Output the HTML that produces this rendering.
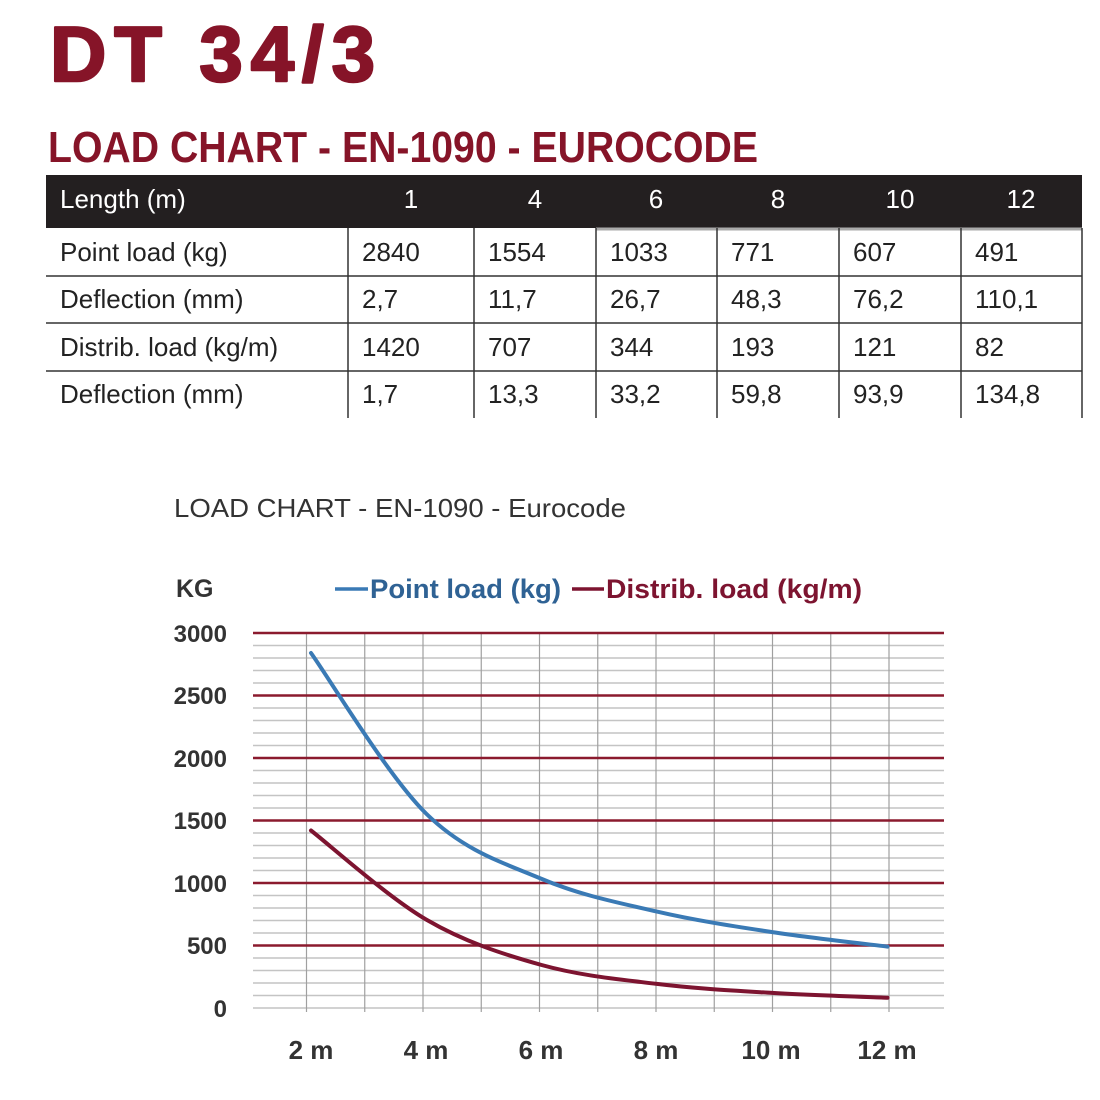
<!DOCTYPE html>
<html><head><meta charset="utf-8"><style>
html,body{margin:0;padding:0;background:#fff;}
svg{display:block;font-family:"Liberation Sans",sans-serif;}
</style></head><body>
<svg width="1100" height="1100" viewBox="0 0 1100 1100">
<rect width="1100" height="1100" fill="#fff"/>
<text x="50" y="81" font-size="78" font-weight="bold" fill="#861428" stroke="#861428" stroke-width="2.5" stroke-linejoin="round" textLength="325" lengthAdjust="spacing">DT 34/3</text>
<text x="48" y="162" font-size="44" font-weight="bold" fill="#861428" textLength="710" lengthAdjust="spacingAndGlyphs">LOAD CHART - EN-1090 - EUROCODE</text>
<!-- table -->
<rect x="46" y="175" width="1036" height="53" fill="#231f20"/>
<line x1="596" y1="229" x2="1082" y2="229" stroke="#aaa" stroke-width="3"/>
<g stroke="#333" stroke-width="1.5">
<line x1="46" y1="276" x2="1082" y2="276"/><line x1="46" y1="323" x2="1082" y2="323"/><line x1="46" y1="371" x2="1082" y2="371"/>
<line x1="348" y1="228" x2="348" y2="418"/><line x1="474" y1="228" x2="474" y2="418"/><line x1="596" y1="228" x2="596" y2="418"/>
<line x1="717" y1="228" x2="717" y2="418"/><line x1="839" y1="228" x2="839" y2="418"/><line x1="961" y1="228" x2="961" y2="418"/><line x1="1082" y1="228" x2="1082" y2="418"/>
</g>
<g font-size="26" fill="#fff">
<text x="60" y="208">Length (m)</text>
<g text-anchor="middle"><text x="411" y="208">1</text><text x="535" y="208">4</text><text x="656" y="208">6</text><text x="778" y="208">8</text><text x="900" y="208">10</text><text x="1021" y="208">12</text></g>
</g>
<g font-size="26" fill="#222">
<text x="60" y="261">Point load (kg)</text><text x="362" y="261">2840</text><text x="488" y="261">1554</text><text x="610" y="261">1033</text><text x="731" y="261">771</text><text x="853" y="261">607</text><text x="975" y="261">491</text>
<text x="60" y="308">Deflection (mm)</text><text x="362" y="308">2,7</text><text x="488" y="308">11,7</text><text x="610" y="308">26,7</text><text x="731" y="308">48,3</text><text x="853" y="308">76,2</text><text x="975" y="308">110,1</text>
<text x="60" y="356">Distrib. load (kg/m)</text><text x="362" y="356">1420</text><text x="488" y="356">707</text><text x="610" y="356">344</text><text x="731" y="356">193</text><text x="853" y="356">121</text><text x="975" y="356">82</text>
<text x="60" y="403">Deflection (mm)</text><text x="362" y="403">1,7</text><text x="488" y="403">13,3</text><text x="610" y="403">33,2</text><text x="731" y="403">59,8</text><text x="853" y="403">93,9</text><text x="975" y="403">134,8</text>
</g>
<!-- chart -->
<text x="174" y="517" font-size="26" fill="#333" textLength="452" lengthAdjust="spacingAndGlyphs">LOAD CHART - EN-1090 - Eurocode</text>
<text x="176" y="597" font-size="25" font-weight="bold" fill="#333">KG</text>
<line x1="335" y1="589" x2="368" y2="589" stroke="#3a7ab5" stroke-width="3.5"/>
<text x="370" y="598" font-size="27" font-weight="bold" fill="#2f6294" textLength="191" lengthAdjust="spacingAndGlyphs">Point load (kg)</text>
<line x1="572" y1="589" x2="604" y2="589" stroke="#7d1430" stroke-width="3.5"/>
<text x="606" y="598" font-size="27" font-weight="bold" fill="#7d1430" textLength="256" lengthAdjust="spacingAndGlyphs">Distrib. load (kg/m)</text>
<g stroke="#c4c4c4" stroke-width="1.5">
<line x1="253" y1="645.5" x2="944" y2="645.5"/><line x1="253" y1="658" x2="944" y2="658"/><line x1="253" y1="670.5" x2="944" y2="670.5"/><line x1="253" y1="683" x2="944" y2="683"/>
<line x1="253" y1="708" x2="944" y2="708"/><line x1="253" y1="720.5" x2="944" y2="720.5"/><line x1="253" y1="733" x2="944" y2="733"/><line x1="253" y1="745.5" x2="944" y2="745.5"/>
<line x1="253" y1="770.5" x2="944" y2="770.5"/><line x1="253" y1="783" x2="944" y2="783"/><line x1="253" y1="795.5" x2="944" y2="795.5"/><line x1="253" y1="808" x2="944" y2="808"/>
<line x1="253" y1="833" x2="944" y2="833"/><line x1="253" y1="845.5" x2="944" y2="845.5"/><line x1="253" y1="858" x2="944" y2="858"/><line x1="253" y1="870.5" x2="944" y2="870.5"/>
<line x1="253" y1="895.5" x2="944" y2="895.5"/><line x1="253" y1="908" x2="944" y2="908"/><line x1="253" y1="920.5" x2="944" y2="920.5"/><line x1="253" y1="933" x2="944" y2="933"/>
<line x1="253" y1="958" x2="944" y2="958"/><line x1="253" y1="970.5" x2="944" y2="970.5"/><line x1="253" y1="983" x2="944" y2="983"/><line x1="253" y1="995.5" x2="944" y2="995.5"/>
<line x1="253" y1="1008" x2="944" y2="1008"/>
</g>
<g stroke="#a0a0a0" stroke-width="1.2">
<line x1="306.5" y1="633" x2="306.5" y2="1012"/><line x1="364.75" y1="633" x2="364.75" y2="1012"/><line x1="423" y1="633" x2="423" y2="1012"/><line x1="481.25" y1="633" x2="481.25" y2="1012"/><line x1="539.5" y1="633" x2="539.5" y2="1012"/><line x1="597.75" y1="633" x2="597.75" y2="1012"/><line x1="656" y1="633" x2="656" y2="1012"/><line x1="714.25" y1="633" x2="714.25" y2="1012"/><line x1="772.5" y1="633" x2="772.5" y2="1012"/><line x1="830.75" y1="633" x2="830.75" y2="1012"/><line x1="889" y1="633" x2="889" y2="1012"/>
</g>
<g stroke="#8b1a2e" stroke-width="2.5">
<line x1="253" y1="633" x2="944" y2="633"/><line x1="253" y1="695.5" x2="944" y2="695.5"/><line x1="253" y1="758" x2="944" y2="758"/><line x1="253" y1="820.5" x2="944" y2="820.5"/><line x1="253" y1="883" x2="944" y2="883"/><line x1="253" y1="945.5" x2="944" y2="945.5"/>
</g>
<g font-size="24" font-weight="bold" fill="#333" text-anchor="end">
<text x="227" y="642">3000</text><text x="227" y="704">2500</text><text x="227" y="767">2000</text><text x="227" y="829">1500</text><text x="227" y="892">1000</text><text x="227" y="954">500</text><text x="227" y="1017">0</text>
</g>
<g font-size="26" font-weight="bold" fill="#333" text-anchor="middle">
<text x="311" y="1059">2 m</text><text x="426" y="1059">4 m</text><text x="541" y="1059">6 m</text><text x="656" y="1059">8 m</text><text x="771" y="1059">10 m</text><text x="887" y="1059">12 m</text>
</g>
<path d="M311,653 C330.2,679.8 387.9,776.1 426.3,813.75 C464.7,851.4 503.2,862.6 541.6,878.9 C580,895.2 618.5,902.7 656.9,911.6 C695.3,920.5 733.8,926.3 772.2,932.1 C810.6,937.9 868.3,944.2 887.5,946.6" fill="none" stroke="#3a7ab5" stroke-width="4" stroke-linecap="round"/>
<path d="M311,830.5 C330.2,845.4 388,897.2 426.3,919.6 C464.7,942 503.2,954.3 541.6,965 C580,975.7 618.5,979.25 656.9,983.9 C695.3,988.6 733.8,990.6 772.2,992.9 C810.6,995.2 868.3,997 887.5,997.75" fill="none" stroke="#7d1430" stroke-width="4" stroke-linecap="round"/>
</svg>
</body></html>
